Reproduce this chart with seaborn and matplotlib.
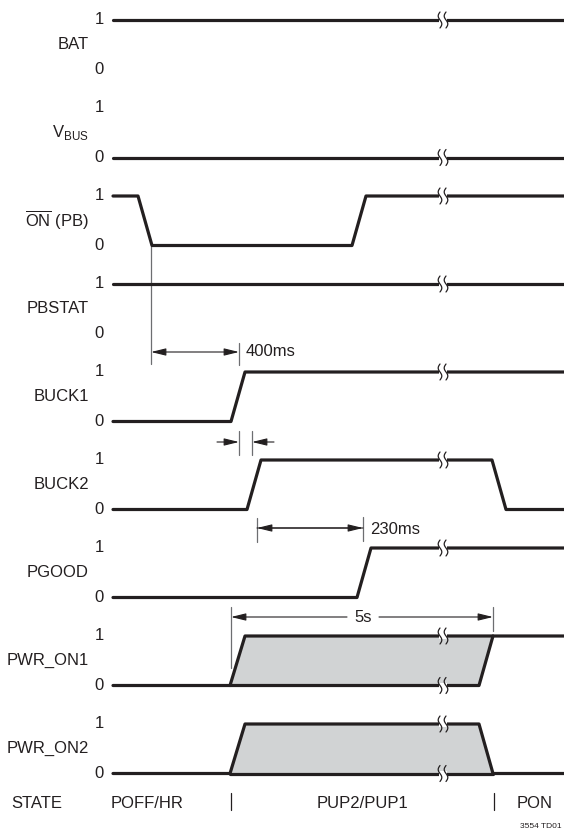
import matplotlib
matplotlib.use("Agg")
import matplotlib.pyplot as plt
import numpy as np
import pandas as pd
import seaborn as sns

# signal names, top to bottom
signals = ["BAT", r"V$_{\mathregular{BUS}}$", r"$\overline{\mathregular{ON}}$ (PB)", "PBSTAT",
           "BUCK1", "BUCK2", "PGOOD", "PWR_ON1", "PWR_ON2"]

# waveform breakpoints (time, level) per signal
wave_t = [
    [113, 564],
    [113, 564],
    [113, 138, 152, 352, 366, 564],
    [113, 564],
    [113, 231, 245, 564],
    [113, 247, 261, 492, 506, 564],
    [113, 357, 371, 564],
    [113, 230, 245, 564],
    [113, 230, 245, 479, 493, 564],
]
wave_v = [
    [1, 1],
    [0, 0],
    [1, 1, 0, 0, 1, 1],
    [1, 1],
    [0, 0, 1, 1],
    [0, 0, 1, 1, 0, 0],
    [0, 0, 1, 1],
    [0, 0, 1, 1],
    [0, 0, 1, 1, 0, 0],
]
# extra paths: PWR_ON1 lower edge, PWR_ON2 lower edge
extra_rows = [7, 8]
extra_t = [[230, 479, 493], [230, 493]]
extra_v = [[0, 0, 1], [0, 0]]

# shaded regions (row, times, levels)
shade_rows = [7, 8]
shade_t = [[230, 245, 493, 479], [230, 245, 479, 493]]
shade_v = [[0, 1, 1, 0], [0, 1, 1, 0]]

# break marks (row, level)
break_t = 443
break_marks = [(0, 1), (1, 0), (2, 1), (3, 1), (4, 1), (5, 1), (6, 1),
               (7, 1), (7, 0), (8, 1), (8, 0)]

# state row
state_names = ["POFF/HR", "PUP2/PUP1", "PON"]
state_bounds = [231, 494]

row_top = 20.0
row_step = 88.0
amp = 49.5


def ypos(row, level):
    return row_top + row_step * row + (1 - level) * amp


sns.set_theme(style="white")
plt.rcParams["font.family"] = ["Liberation Sans", "DejaVu Sans"]
plt.rcParams["mathtext.fontset"] = "custom"
plt.rcParams["mathtext.rm"] = "Liberation Sans"

ink = "#231f20"
thin = "#6d6e71"

fig = plt.figure(figsize=(5.64, 8.31), dpi=100)
ax = fig.add_axes([0, 0, 1, 1])

# shaded areas
for r, ts, vs in zip(shade_rows, shade_t, shade_v):
    ax.fill(ts, [ypos(r, v) for v in vs], color="#d1d3d4", lw=0, zorder=1)

# waveforms through seaborn
rows = []
for i, (ts, vs) in enumerate(zip(wave_t, wave_v)):
    for k, (t, v) in enumerate(zip(ts, vs)):
        rows.append(dict(seg=i, order=k, t=t, y=ypos(i, v)))
for j, (r, ts, vs) in enumerate(zip(extra_rows, extra_t, extra_v)):
    for k, (t, v) in enumerate(zip(ts, vs)):
        rows.append(dict(seg=100 + j, order=k, t=t, y=ypos(r, v)))
df = pd.DataFrame(rows)
sns.lineplot(data=df, x="t", y="y", units="seg", estimator=None, sort=False,
             color=ink, linewidth=2.3, legend=False, ax=ax, zorder=3)
ax.set_xlim(0, 564)
ax.set_ylim(831, 0)
ax.axis("off")

# break marks
s = np.linspace(-1, 1, 30)
for r, lv in break_marks:
    y0 = ypos(r, lv)
    ax.fill_between([break_t - 4, break_t + 4], y0 - 3, y0 + 3, color="white", zorder=4, lw=0)
    for dx in (-3, 3):
        ax.plot(break_t + dx + 1.8 * np.sin(np.pi * s), y0 + 8 * s, color=ink, lw=0.9, zorder=5)

# labels
fs = 12
for i, name in enumerate(signals):
    ax.text(89, (ypos(i, 1) + ypos(i, 0)) / 2, name, ha="right", va="center",
            fontsize=fs, color=ink)
    ax.text(104, ypos(i, 1), "1", ha="right", va="center", fontsize=fs, color=ink)
    ax.text(104, ypos(i, 0), "0", ha="right", va="center", fontsize=fs, color=ink)

# timing annotations
aprops = dict(arrowstyle="-|>,head_length=0.9,head_width=0.22", color=ink, lw=0.8,
              shrinkA=0, shrinkB=0, mutation_scale=10)
bprops = dict(arrowstyle="<|-|>,head_length=0.9,head_width=0.22", color=ink, lw=0.8,
              shrinkA=0, shrinkB=0, mutation_scale=10)

ax.plot([151, 151], [ypos(2, 0), 364], color=thin, lw=0.9)
ax.plot([239, 239], [343, 365], color=thin, lw=0.9)
ax.annotate("", xy=(239, 352), xytext=(151, 352), arrowprops=bprops)
ax.text(246, 352, "400ms", ha="left", va="center", fontsize=fs, color=ink)

ax.plot([239, 239], [431, 455], color=thin, lw=0.9)
ax.plot([252, 252], [431, 455], color=thin, lw=0.9)
ax.annotate("", xy=(239, 442), xytext=(217, 442), arrowprops=aprops)
ax.annotate("", xy=(252, 442), xytext=(274, 442), arrowprops=aprops)

ax.plot([257, 257], [518, 542], color=thin, lw=0.9)
ax.plot([363, 363], [517, 541], color=thin, lw=0.9)
ax.annotate("", xy=(257, 528), xytext=(363, 528), arrowprops=aprops)
ax.annotate("", xy=(363, 528), xytext=(257, 528), arrowprops=aprops)
ax.text(370, 530, "230ms", ha="left", va="center", fontsize=fs, color=ink)

ax.plot([231, 231], [607, 668], color=thin, lw=0.9)
ax.plot([493, 493], [607, 631], color=thin, lw=0.9)
ax.annotate("", xy=(231, 617), xytext=(347, 617), arrowprops=aprops)
ax.annotate("", xy=(493, 617), xytext=(379, 617), arrowprops=aprops)
ax.text(363, 617, "5s", ha="center", va="center", fontsize=fs, color=ink)

# state row
ys = 804
ax.text(11, ys, "STATE", ha="left", va="center", fontsize=fs, color=ink)
ax.text(111, ys, state_names[0], ha="left", va="center", fontsize=fs, color=ink)
ax.text((state_bounds[0] + state_bounds[1]) / 2, ys, state_names[1], ha="center",
        va="center", fontsize=fs, color=ink)
ax.text(517, ys, state_names[2], ha="left", va="center", fontsize=fs, color=ink)
for b in state_bounds:
    ax.plot([b, b], [793, 810], color=ink, lw=0.9)
ax.text(562, 826, "3554 TD01", ha="right", va="center", fontsize=6, color=ink)

fig.savefig("out.png", dpi=100)
